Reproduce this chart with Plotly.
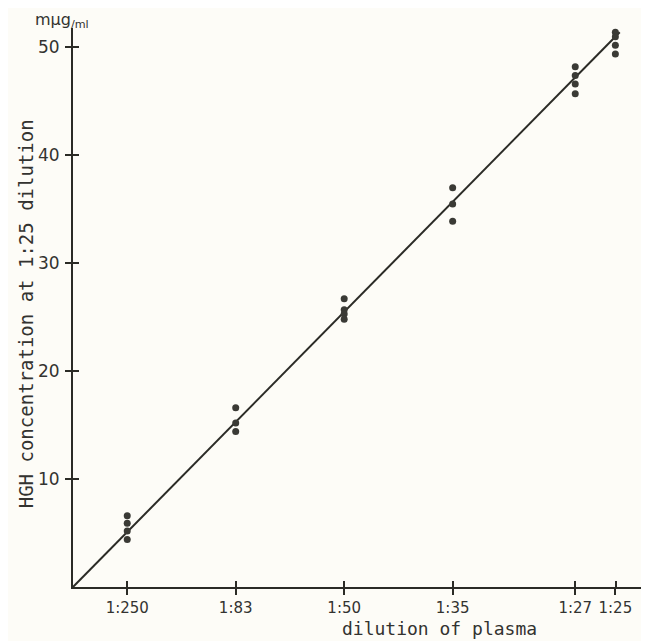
import plotly.graph_objects as go

# Expected concentration position (relative to 1:25 dilution) for each dilution
dilution_labels = ["1:250", "1:83", "1:50", "1:35", "1:27", "1:25"]
dilution_pos = [5, 15, 25, 35, 46.3, 50]

# Measured HGH concentrations (mμg/ml) at each dilution
x_pts = [5, 5, 5, 5,
         15, 15, 15,
         25, 25, 25, 25,
         35, 35, 35,
         46.3, 46.3, 46.3, 46.3,
         50, 50, 50, 50]
y_pts = [6.6, 5.9, 5.2, 4.4,
         16.6, 15.2, 14.4,
         26.7, 25.7, 25.3, 24.8,
         37.0, 35.5, 33.9,
         48.2, 47.4, 46.6, 45.7,
         51.4, 51.0, 50.2, 49.4]

# Regression line
fit_x = [0, 50.4]
fit_y = [0, 51.4]

y_ticks = [10, 20, 30, 40, 50]

ink = "#2b2b26"
text_col = "#333330"
font_family = "DejaVu Sans, Lato, sans-serif"
mono_family = "DejaVu Sans Mono, Liberation Mono, monospace"

fig = go.Figure()
fig.add_trace(go.Scatter(x=fit_x, y=fit_y, mode="lines",
                         line=dict(color=ink, width=2), showlegend=False,
                         hoverinfo="skip"))
fig.add_trace(go.Scatter(x=x_pts, y=y_pts, mode="markers",
                         marker=dict(color="#3a3a35", size=7), showlegend=False))

axis_common = dict(showgrid=False, zeroline=False, showline=True,
                   linecolor=ink, linewidth=2, ticks="outside", ticklen=6,
                   tickwidth=1.5, tickcolor=ink, automargin=False)

# inside half of the crossing ticks (tiny offset so they are not merged with major ticks)
eps = 0.02
minor_x = [v + eps for v in dilution_pos]
minor_y = [v + eps for v in y_ticks]

# page body has an 8px margin, so the figure is sized 8px smaller
fig.update_layout(
    width=641, height=633,
    margin=dict(l=65, r=0, t=20, b=54),
    paper_bgcolor="#fdfcf7", plot_bgcolor="#fdfcf7",
    font=dict(family=font_family, color=text_col, size=15),
    xaxis=dict(range=[0, 53.1], tickvals=dilution_pos, ticktext=dilution_labels,
               tickfont=dict(size=15),
               minor=dict(tickvals=minor_x, ticks="inside", ticklen=6,
                          tickwidth=1.5, tickcolor=ink, showgrid=False),
               **axis_common),
    yaxis=dict(range=[0, 51.8], tickvals=y_ticks, ticktext=[str(v) for v in y_ticks],
               tickfont=dict(size=17), ticklabelstandoff=2,
               minor=dict(tickvals=minor_y, ticks="inside", ticklen=6,
                          tickwidth=1.5, tickcolor=ink, showgrid=False),
               **axis_common),
    annotations=[
        dict(text="HGH concentration at 1:25 dilution", xref="paper", yref="paper",
             x=-0.0815, y=0.488, xanchor="center", yanchor="middle",
             textangle=-90, showarrow=False,
             font=dict(size=19, family=mono_family)),
        dict(text="dilution of plasma", xref="paper", yref="paper",
             x=0.637, y=-0.0735, xanchor="center", yanchor="middle",
             showarrow=False, font=dict(size=18, family=mono_family)),
        dict(text="mμg<sub>/ml</sub>", xref="paper", yref="paper",
             x=-0.019, y=1.0143, xanchor="center", yanchor="middle",
             showarrow=False, font=dict(size=16)),
    ],
)

fig.write_html("out.html")
